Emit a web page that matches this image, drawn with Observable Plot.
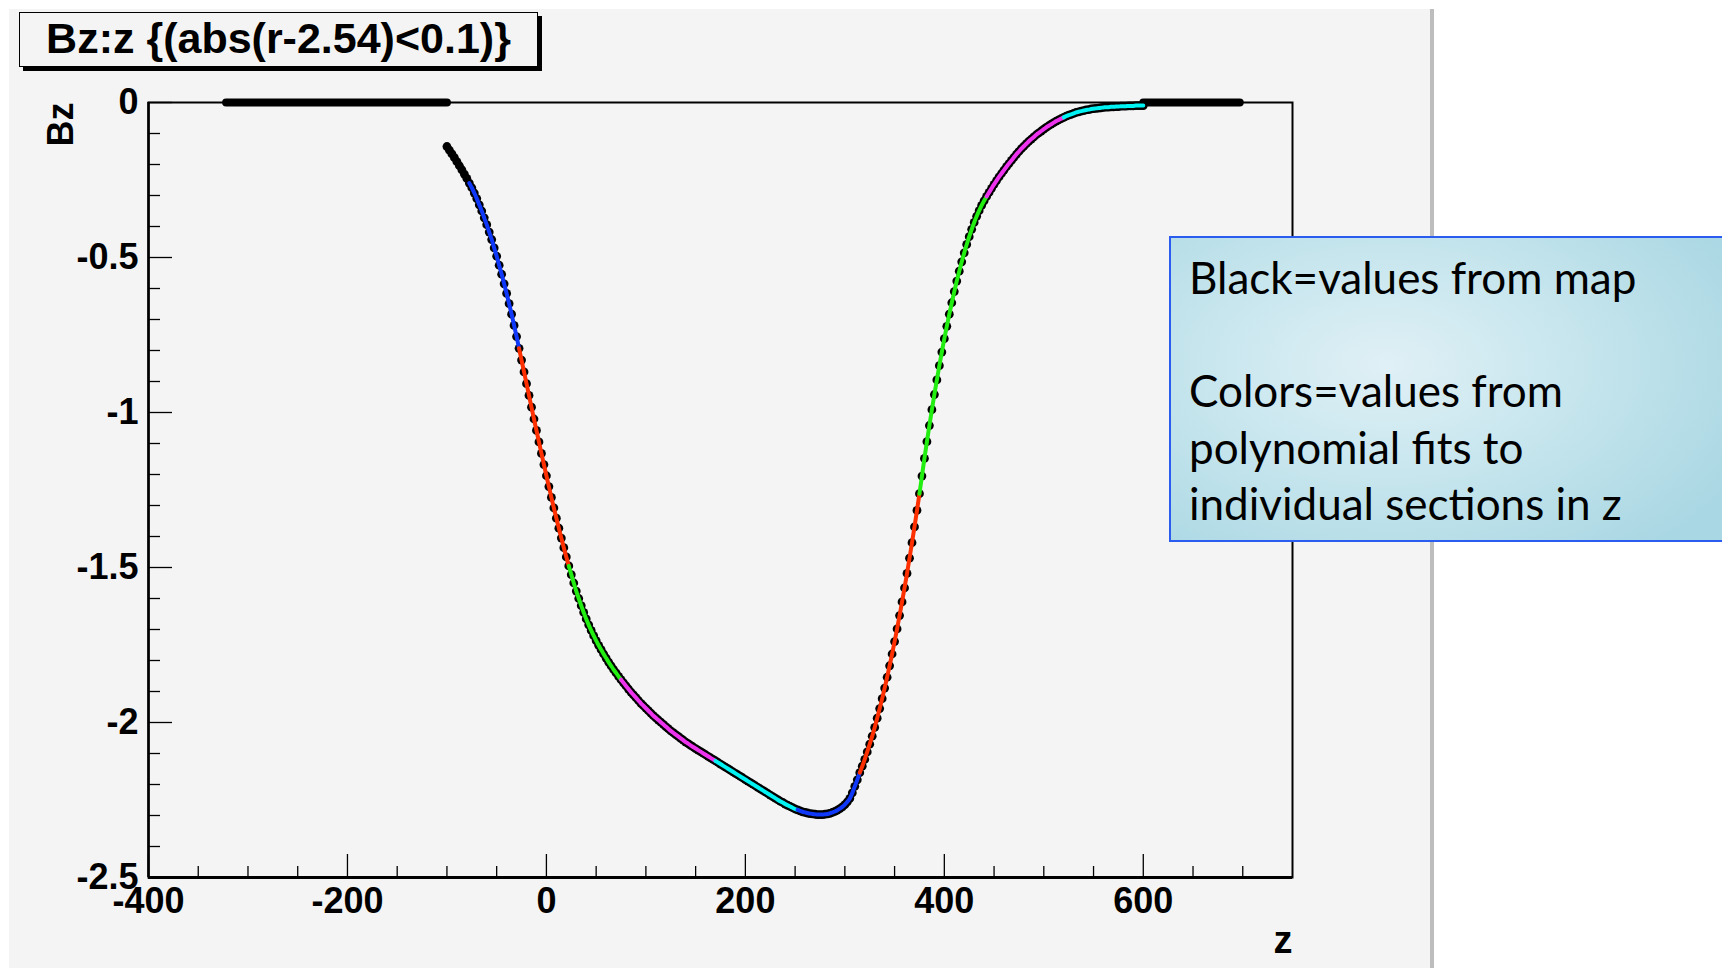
<!DOCTYPE html>
<html>
<head>
<meta charset="utf-8">
<script src="https://cdn.jsdelivr.net/npm/d3@7"></script>
<script src="https://cdn.jsdelivr.net/npm/@observablehq/plot@0.6"></script>
<style>
  html, body { margin: 0; padding: 0; background: #ffffff; }
  #wrap { position: relative; width: 1722px; height: 968px; overflow: hidden; font-family: "Liberation Sans", Arial, sans-serif; }
  #pad { position: absolute; left: 9px; top: 9px; width: 1421px; height: 959px; background: #f4f4f4; border-right: 4px solid #bdbdbd; }
  #chart { position: absolute; left: 0; top: 0; }
  #title { position: absolute; left: 19px; top: 12px; width: 519px; height: 55px; box-sizing: border-box;
           border: 1.5px solid #000; background: #f4f4f4; box-shadow: 4px 4px 0 #000;
           font-weight: bold; font-size: 43px; line-height: 51px; text-align: center; color: #000; white-space: nowrap; }
  #note { position: absolute; left: 1169px; top: 236px; width: 620px; height: 306px; box-sizing: border-box;
          border: 2px solid #2a5cf0;
          background: radial-gradient(ellipse 65% 80% at 35% 42%, #e0f0f6 0%, #c8e6ee 45%, #a9d7e3 100%);
          font-family: Lato, "Open Sans", sans-serif; font-size: 44px; line-height: 56.5px; color: #000;
          padding: 11px 0 0 18px; white-space: nowrap; }
</style>
</head>
<body>
<div id="wrap">
  <div id="pad"></div>
  <div id="chart"></div>
  <div id="title">Bz:z {(abs(r-2.54)&lt;0.1)}</div>
  <div id="note">Black=values from map<br><br>Colors=values from<br>polynomial fits to<br>individual sections in z</div>
</div>
<script>
// ---- data ----
// black dots: field-map values along z (at r = 2.54)
const zMap = [
  -100,-97.5,-95,-92.5,-90,-87.5,-85,-82.5,-80,-77.5,-75,-72.5,-70,-67.5,-65,-62.5,-60,-57.5,-55,-52.5,
  -50,-47.5,-45,-42.5,-40,-37.5,-35,-32.5,-30,-27.5,-25,-22.5,-20,-17.5,-15,-12.5,-10,-7.5,-5,-2.5,
  0,2.5,5,7.5,10,12.5,15,17.5,20,22.5,25,27.5,30,32.5,35,37.5,40,42.5,45,47.5,
  50,52.5,55,57.5,60,62.5,65,67.5,70,72.5,75,77.5,80,82.5,85,87.5,90,92.5,95,97.5,
  100,102.5,105,107.5,110,112.5,115,117.5,120,122.5,125,127.5,130,132.5,135,137.5,140,142.5,145,147.5,
  150,152.5,155,157.5,160,162.5,165,167.5,170,172.5,175,177.5,180,182.5,185,187.5,190,192.5,195,197.5,
  200,202.5,205,207.5,210,212.5,215,217.5,220,222.5,225,227.5,230,232.5,235,237.5,240,242.5,245,247.5,
  250,252.5,255,257.5,260,262.5,265,267.5,270,272.5,275,277.5,280,282.5,285,287.5,290,292.5,295,297.5,
  300,302.5,305,307.5,310,312.5,315,317.5,320,322.5,325,327.5,330,332.5,335,337.5,340,342.5,345,347.5,
  350,352.5,355,357.5,360,362.5,365,367.5,370,372.5,375,377.5,380,382.5,385,387.5,390,392.5,395,397.5,
  400,402.5,405,407.5,410,412.5,415,417.5,420,422.5,425,427.5,430,432.5,435,437.5,440,442.5,445,447.5,
  450,452.5,455,457.5,460,462.5,465,467.5,470,472.5,475,477.5,480,482.5,485,487.5,490,492.5,495,497.5,
  500,502.5,505,507.5,510,512.5,515,517.5,520,522.5,525,527.5,530,532.5,535,537.5,540,542.5,545,547.5,
  550,552.5,555,557.5,560,562.5,565,567.5,570,572.5,575,577.5,580,582.5,585,587.5,590,592.5,595,597.5,600];
const bzMap = [
  -0.142,-0.154,-0.166,-0.178,-0.191,-0.204,-0.217,-0.231,-0.245,-0.260,-0.275,-0.292,-0.310,-0.330,-0.350,-0.372,-0.394,-0.418,-0.442,-0.469,
  -0.496,-0.525,-0.554,-0.585,-0.616,-0.649,-0.683,-0.719,-0.755,-0.793,-0.831,-0.869,-0.907,-0.945,-0.983,-1.021,-1.058,-1.095,-1.132,-1.168,
  -1.204,-1.239,-1.274,-1.308,-1.341,-1.373,-1.405,-1.436,-1.466,-1.495,-1.523,-1.550,-1.576,-1.600,-1.623,-1.645,-1.666,-1.685,-1.703,-1.720,
  -1.736,-1.751,-1.765,-1.779,-1.792,-1.805,-1.817,-1.829,-1.840,-1.851,-1.862,-1.872,-1.882,-1.892,-1.902,-1.911,-1.920,-1.929,-1.938,-1.946,
  -1.954,-1.962,-1.970,-1.978,-1.985,-1.992,-1.999,-2.006,-2.013,-2.020,-2.027,-2.033,-2.039,-2.045,-2.051,-2.057,-2.063,-2.068,-2.074,-2.079,
  -2.084,-2.089,-2.094,-2.099,-2.104,-2.109,-2.114,-2.119,-2.124,-2.129,-2.134,-2.139,-2.144,-2.149,-2.154,-2.159,-2.164,-2.169,-2.174,-2.179,
  -2.184,-2.189,-2.194,-2.199,-2.204,-2.209,-2.214,-2.219,-2.224,-2.229,-2.234,-2.239,-2.244,-2.249,-2.254,-2.258,-2.263,-2.267,-2.271,-2.275,
  -2.279,-2.282,-2.285,-2.288,-2.290,-2.292,-2.294,-2.295,-2.296,-2.297,-2.297,-2.297,-2.296,-2.295,-2.293,-2.290,-2.287,-2.283,-2.278,-2.272,
  -2.265,-2.256,-2.245,-2.227,-2.206,-2.185,-2.162,-2.141,-2.119,-2.095,-2.070,-2.044,-2.016,-1.986,-1.955,-1.923,-1.889,-1.854,-1.817,-1.779,
  -1.739,-1.698,-1.655,-1.611,-1.566,-1.519,-1.470,-1.420,-1.369,-1.316,-1.262,-1.205,-1.148,-1.094,-1.042,-0.991,-0.942,-0.895,-0.849,-0.805,
  -0.762,-0.722,-0.683,-0.646,-0.610,-0.576,-0.544,-0.514,-0.485,-0.458,-0.433,-0.409,-0.387,-0.367,-0.349,-0.332,-0.317,-0.303,-0.290,-0.277,
  -0.264,-0.252,-0.240,-0.229,-0.218,-0.207,-0.197,-0.187,-0.177,-0.167,-0.158,-0.149,-0.141,-0.133,-0.125,-0.118,-0.111,-0.104,-0.098,-0.092,
  -0.086,-0.080,-0.075,-0.070,-0.065,-0.060,-0.056,-0.052,-0.048,-0.044,-0.041,-0.038,-0.035,-0.032,-0.030,-0.028,-0.026,-0.024,-0.023,-0.021,
  -0.020,-0.019,-0.018,-0.017,-0.016,-0.015,-0.015,-0.014,-0.014,-0.013,-0.013,-0.012,-0.012,-0.012,-0.011,-0.011,-0.011,-0.010,-0.010,-0.010,-0.010];
// black map values that are exactly zero (outside the map): z extents
const flatLeftZ = [-322, -100];
const flatRightZ = [600, 697];
const flatBz = 0;
// polynomial-fit sections in z and their colours
const sectionEdges = [-77.5, -27.5, 22.5, 75, 170, 252.5, 315, 375, 442.5, 520, 600];
const sectionColors = ["#1038f8", "#ff3000", "#22ee11", "#ee33ee", "#00f2f2",
                       "#1038f8", "#ff3000", "#22ee11", "#ee33ee", "#00f2f2"];
// axes
const xMajorTicks = [-400, -200, 0, 200, 400, 600];
const xMinorTicks = [-350, -300, -250, -150, -100, -50, 50, 100, 150, 250, 300, 350, 450, 500, 550, 650, 700];
const yMajorTicks = [0, -0.5, -1, -1.5, -2, -2.5];
const yMinorTicks = [-0.1, -0.2, -0.3, -0.4, -0.6, -0.7, -0.8, -0.9, -1.1, -1.2, -1.3, -1.4,
                     -1.6, -1.7, -1.8, -1.9, -2.1, -2.2, -2.3, -2.4];
const xLabel = "z";
const yLabel = "Bz";

// ---- tables built from the arrays ----
const mapData = zMap.map((z, i) => ({z, bz: bzMap[i]}));
const flatData = [
  ...flatLeftZ.map(z => ({z, bz: flatBz, part: "left"})),
  ...flatRightZ.map(z => ({z, bz: flatBz, part: "right"}))
];
const fitData = [];
sectionColors.forEach((c, s) => {
  const lo = sectionEdges[s], hi = sectionEdges[s + 1];
  mapData.filter(d => d.z >= lo && d.z <= hi).forEach(d => fitData.push({z: d.z, bz: d.bz, section: s, color: c}));
});

const font = {fontSize: 36, fontWeight: "bold"};

const chart = Plot.plot({
  width: 1722, height: 968,
  marginLeft: 148, marginRight: 430, marginTop: 102, marginBottom: 91,
  style: {background: "transparent", fontFamily: "'Liberation Sans', Arial, sans-serif", color: "#000", overflow: "visible"},
  x: {domain: [-400, 750]},
  y: {domain: [-2.5, 0]},
  color: {type: "identity"},
  marks: [
    Plot.frame({stroke: "#000", strokeWidth: 2}),
    Plot.ruleY([-2.5], {stroke: "#000", strokeWidth: 3}),
    Plot.ruleX([-400], {stroke: "#000", strokeWidth: 2.5}),
    Plot.axisX(xMinorTicks, {tickSize: -11, fill: "none", label: null, strokeWidth: 1.3}),
    Plot.axisX(xMajorTicks, {tickSize: -23, fill: "none", label: null, strokeWidth: 1.3}),
    Plot.axisX(xMajorTicks, {tickSize: 0, tickPadding: 10, tickFormat: d => String(d), label: null, ...font}),
    Plot.axisY(yMinorTicks, {tickSize: -12, fill: "none", label: null, strokeWidth: 1.3}),
    Plot.axisY(yMajorTicks, {tickSize: -24, fill: "none", label: null, strokeWidth: 1.3}),
    Plot.axisY(yMajorTicks, {tickSize: 0, tickPadding: 10, tickFormat: d => String(d), label: null, ...font}),
    Plot.text([yLabel], {frameAnchor: "top-left", rotate: -90, textAnchor: "end", lineAnchor: "bottom", dx: -76, dy: 0, ...font}),
    Plot.text([xLabel], {frameAnchor: "bottom-right", textAnchor: "end", lineAnchor: "bottom", dy: 75, fontSize: 38, fontWeight: "bold"}),
    Plot.line(flatData, {x: "z", y: "bz", z: "part", stroke: "#000", strokeWidth: 8, strokeLinecap: "round"}),
    Plot.dot(mapData, {x: "z", y: "bz", r: 4.4, fill: "#000", stroke: "none"}),
    Plot.line(fitData, {x: "z", y: "bz", z: "section", stroke: "color", strokeWidth: 4, curve: "catmull-rom"})
  ]
});
document.getElementById("chart").append(chart);
</script>
</body>
</html>
